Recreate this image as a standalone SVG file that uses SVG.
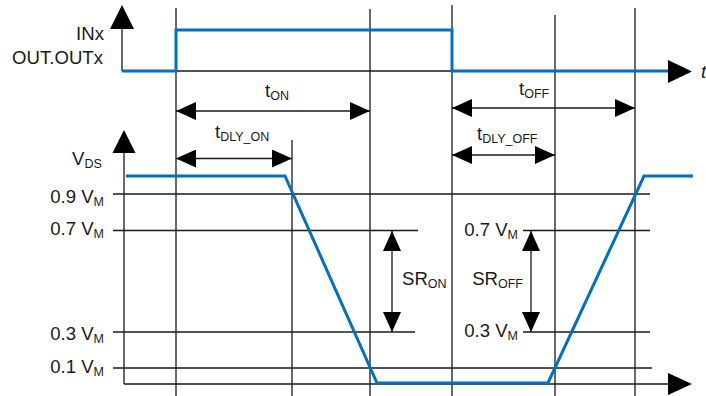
<svg xmlns="http://www.w3.org/2000/svg" width="706" height="396" viewBox="0 0 706 396">
<style>
text{font-family:"Liberation Sans",Arial,sans-serif;font-size:18.6px;fill:#1a1a1a}
.sub{font-size:12.5px}
.ln{stroke:#1a1a1a;stroke-width:1.3;fill:none}
.dim{stroke:#1a1a1a;stroke-width:1.3;fill:none;marker-start:url(#ah);marker-end:url(#ah)}
.sig{stroke:#0070c0;stroke-width:3;fill:none;stroke-linejoin:miter}
.head{fill:#000}
</style>
<defs>
<marker id="ah" markerUnits="userSpaceOnUse" markerWidth="20" markerHeight="18" refX="20" refY="9" orient="auto-start-reverse" viewBox="0 0 20 18">
<path d="M0,0 L20,9 L0,18 Z" fill="#000"/>
</marker>
</defs>
<g id="grid">
<line class="ln" x1="176" y1="8" x2="176" y2="396"/>
<line class="ln" x1="292" y1="140" x2="292" y2="396"/>
<line class="ln" x1="370" y1="9" x2="370" y2="396"/>
<line class="ln" x1="452" y1="5" x2="452" y2="396"/>
<line class="ln" x1="555" y1="15" x2="555" y2="396"/>
<line class="ln" x1="635" y1="8" x2="635" y2="396"/>
<line class="ln" x1="113" y1="194" x2="650" y2="194"/>
<line class="ln" x1="113" y1="230.5" x2="418" y2="230.5"/>
<line class="ln" x1="523" y1="230.5" x2="650" y2="230.5"/>
<line class="ln" x1="113" y1="332" x2="415" y2="332"/>
<line class="ln" x1="523" y1="332" x2="650" y2="332"/>
<line class="ln" x1="113" y1="368" x2="652" y2="368"/>
</g>
<g id="axes">
<line class="ln" x1="122" y1="28" x2="122" y2="71"/>
<line class="ln" x1="122" y1="71" x2="670" y2="71"/>
<polygon class="head" points="110,29 122,5 134,29"/>
<polygon class="head" points="668,60 692,71.5 668,83"/>
<line class="ln" x1="124" y1="152" x2="124" y2="384"/>
<line class="ln" x1="124" y1="384" x2="670" y2="384"/>
<polygon class="head" points="112.5,153 124,130 135.5,153"/>
<polygon class="head" points="668,373 692,384 668,395"/>
</g>
<g id="signals">
<polyline class="sig" points="122,71 176,71 176,30 452,30 452,71 668,71"/>
<polyline class="sig" points="126,176 285,176 377,383 548,383 644,176 693,176"/>
</g>
<g id="connectors">
<line class="dim" x1="176" y1="111" x2="370" y2="111"/>
<line class="dim" x1="176" y1="158.5" x2="292" y2="158.5"/>
<line class="dim" x1="452" y1="108" x2="635" y2="108"/>
<line class="dim" x1="452" y1="155" x2="555" y2="155"/>
<line class="dim" x1="392" y1="231" x2="392" y2="332"/>
<line class="dim" x1="531" y1="231" x2="531" y2="332"/>
</g>
<g id="labels">
<text x="104" y="39.5" text-anchor="end">INx</text>
<text x="103" y="63.5" text-anchor="end">OUT.OUTx</text>
<text x="701" y="78" font-style="italic">t</text>
<text x="72" y="165">V<tspan class="sub" dy="3">DS</tspan></text>
<text x="104" y="202.5" text-anchor="end">0.9 V<tspan class="sub" dy="3">M</tspan></text>
<text x="104" y="235" text-anchor="end">0.7 V<tspan class="sub" dy="3">M</tspan></text>
<text x="104" y="340" text-anchor="end">0.3 V<tspan class="sub" dy="3">M</tspan></text>
<text x="104" y="372.5" text-anchor="end">0.1 V<tspan class="sub" dy="3">M</tspan></text>
<text x="518" y="236" text-anchor="end">0.7 V<tspan class="sub" dy="3">M</tspan></text>
<text x="518" y="337" text-anchor="end">0.3 V<tspan class="sub" dy="3">M</tspan></text>
<text x="402" y="285">SR<tspan class="sub" dy="3">ON</tspan></text>
<text x="523" y="285" text-anchor="end">SR<tspan class="sub" dy="3">OFF</tspan></text>
<text x="265" y="97">t<tspan class="sub" dy="3">ON</tspan></text>
<text x="215" y="138">t<tspan class="sub" dy="3">DLY_ON</tspan></text>
<text x="519" y="95">t<tspan class="sub" dy="3">OFF</tspan></text>
<text x="477" y="140">t<tspan class="sub" dy="3">DLY_OFF</tspan></text>
</g>
</svg>
